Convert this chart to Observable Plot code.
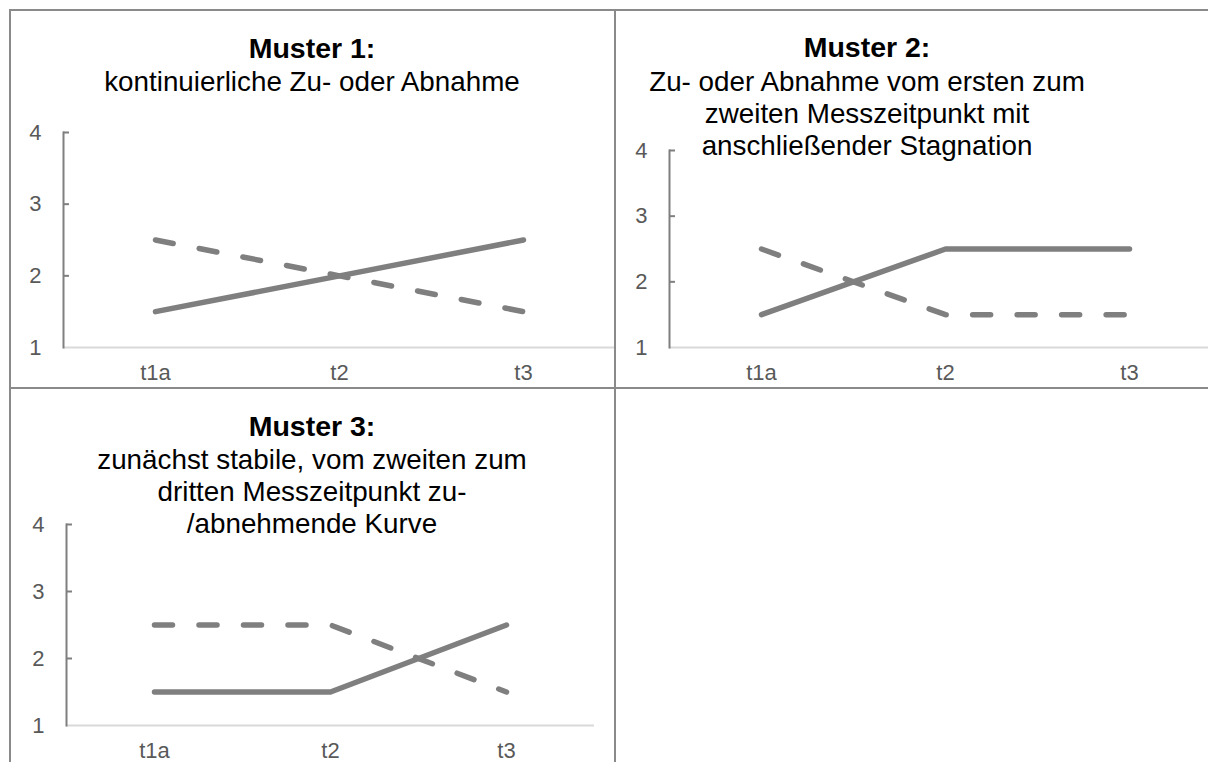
<!DOCTYPE html>
<html>
<head>
<meta charset="utf-8">
<script src="https://cdn.jsdelivr.net/npm/d3@7"></script>
<script src="https://cdn.jsdelivr.net/npm/@observablehq/plot@0.6"></script>
<style>
  html, body { margin: 0; padding: 0; background: #fff; overflow: hidden; }
  #page { position: relative; width: 1208px; height: 762px; overflow: hidden;
          font-family: "Liberation Sans", Arial, sans-serif; }
  .chart { position: absolute; }
  .chart svg { display: block; max-width: none !important; }
  .txt { position: absolute; width: 640px; text-align: center; white-space: nowrap; color: #000; z-index: 4; }
  .ttl { font-weight: bold; font-size: 28.5px; line-height: 33px; }
  .sub { font-size: 27.8px; line-height: 32px; }
  .rule { position: absolute; background: #8a8a8a; z-index: 5; }
</style>
</head>
<body>
<div id="page"></div>
<script>
// ---- data ----
const categories = ["t1a", "t2", "t3"];
const yTicks = [1, 2, 3, 4];

const muster1Solid  = [1.5, 2.0, 2.5];
const muster1Dashed = [2.5, 2.0, 1.5];
const muster2Solid  = [1.5, 2.5, 2.5];
const muster2Dashed = [2.5, 1.5, 1.5];
const muster3Solid  = [1.5, 1.5, 2.5];
const muster3Dashed = [2.5, 2.5, 1.5];

const titles = ["Muster 1:", "Muster 2:", "Muster 3:"];
const subtitles1 = ["kontinuierliche Zu- oder Abnahme"];
const subtitles2 = ["Zu- oder Abnahme vom ersten zum", "zweiten Messzeitpunkt mit", "anschließender Stagnation"];
const subtitles3 = ["zunächst stabile, vom zweiten zum", "dritten Messzeitpunkt zu-", "/abnehmende Kurve"];

// ---- layout ----
const page = document.getElementById("page");
const gray = "#7f7f7f";
const labelGray = "#595959";

function makePanel(solid, dashed, o) {
  const sData = categories.map((c, i) => ({cat: c, value: solid[i]}));
  const dData = categories.map((c, i) => ({cat: c, value: dashed[i]}));
  const frameW = o.width - o.marginLeft - o.marginRight;
  return Plot.plot({
    width: o.width, height: o.height,
    marginLeft: o.marginLeft, marginRight: o.marginRight,
    marginTop: o.marginTop, marginBottom: o.marginBottom,
    style: {background: "none", overflow: "visible", maxWidth: "none",
            fontFamily: "'Liberation Sans', Arial, sans-serif"},
    x: {type: "point", domain: categories, padding: 0.5, label: null},
    y: {domain: [1, 4], label: null},
    marks: [
      Plot.ruleY([1], {stroke: "#d9d9d9", strokeWidth: 2}),
      Plot.frame({anchor: "left", stroke: gray, strokeWidth: 2}),
      Plot.ruleY(yTicks.slice(1), {stroke: gray, strokeWidth: 2, insetRight: frameW - 6}),
      Plot.axisY(yTicks, {tickSize: 0, tickPadding: 22, fontSize: 22, color: labelGray,
                          label: null, tickFormat: d => String(d)}),
      Plot.axisX({tickSize: 0, tickPadding: 17, fontSize: 22, color: labelGray, label: null}),
      Plot.line(dData, {x: "cat", y: "value", stroke: gray, strokeWidth: 5.5,
                        strokeDasharray: "18,26.5", strokeLinecap: "round"}),
      Plot.line(sData, {x: "cat", y: "value", stroke: gray, strokeWidth: 5.5,
                        strokeLinecap: "round", strokeLinejoin: "round"})
    ]
  });
}

function place(el, left, top) {
  const d = document.createElement("div");
  d.className = "chart";
  d.style.left = left + "px";
  d.style.top = top + "px";
  d.style.width = el.getAttribute("width") + "px";
  d.appendChild(el);
  page.appendChild(d);
}

function addText(lines, cls, cx, top) {
  const d = document.createElement("div");
  d.className = "txt " + cls;
  d.style.left = (cx - 320) + "px";
  d.style.top = top + "px";
  d.innerHTML = lines.map(l => l.replace(/&/g, "&amp;")).join("<br>");
  page.appendChild(d);
}

function addRule(left, top, w, h) {
  const d = document.createElement("div");
  d.className = "rule";
  Object.assign(d.style, {left: left + "px", top: top + "px", width: w + "px", height: h + "px"});
  page.appendChild(d);
}

// panel 1
place(makePanel(muster1Solid, muster1Dashed,
  {width: 606, height: 378, marginLeft: 54, marginRight: 0, marginTop: 122, marginBottom: 41}), 9, 10);
// panel 2
place(makePanel(muster2Solid, muster2Dashed,
  {width: 606, height: 378, marginLeft: 54, marginRight: 0, marginTop: 140, marginBottom: 41}), 615, 10);
// panel 3
place(makePanel(muster3Solid, muster3Dashed,
  {width: 606, height: 374, marginLeft: 57, marginRight: 21, marginTop: 136, marginBottom: 37}), 9, 388);

addText([titles[0]], "ttl", 312, 32);
addText(subtitles1, "sub", 312, 66);
addText([titles[1]], "ttl", 867, 31);
addText(subtitles2, "sub", 867, 66);
addText([titles[2]], "ttl", 312, 410);
addText(subtitles3, "sub", 312, 444);

// table grid lines
addRule(9, 9, 1199, 2);
addRule(9, 9, 2, 753);
addRule(9, 387, 1199, 2);
addRule(614, 9, 2, 753);
</script>
</body>
</html>
